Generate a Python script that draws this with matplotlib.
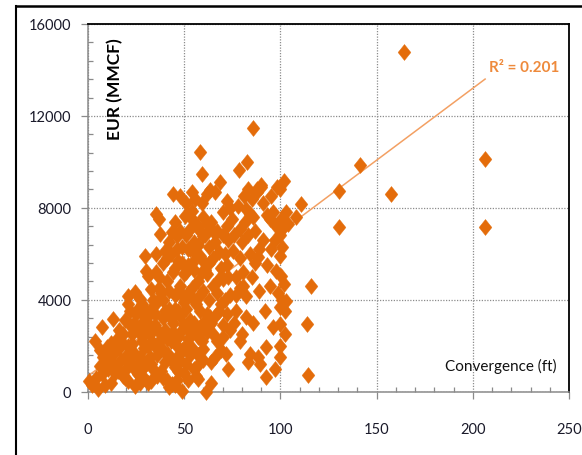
import matplotlib
matplotlib.use("Agg")
import matplotlib.pyplot as plt
import numpy as np
from matplotlib.path import Path
from matplotlib.lines import Line2D
from matplotlib.ticker import MultipleLocator

plt.rcParams['font.family'] = ['Lato', 'DejaVu Sans']

# ---- data ----
convergence_ft = [
    # x 0-15
    0.5, 2, 5, 4, 3.6, 6, 7.1, 7.1, 8, 9.7, 10.5, 10, 12, 13.1, 14, 12, 11, 14, 15, 6, 9, 13,
    # x 15-30
    15.7, 16, 17, 18, 19.2, 20, 20.9, 20.9, 20.9, 21, 22.7, 22, 23, 24.4, 24.4, 24, 25, 26, 26, 27,
    27, 28, 28, 29.6, 29, 29, 30, 18, 22, 25, 27, 16, 19,
    17, 19, 21, 23, 24, 26, 26, 28, 28, 30, 30,
    # x 30-45
    29.6, 30.4, 31.3, 33, 33, 32, 32, 33, 34, 34, 35, 35.6, 35.6, 35.6, 36, 36, 37.3, 37, 38, 38.2,
    38, 39, 39, 40, 40, 40, 41, 41.6, 42, 42, 43.4, 43.4, 43, 44, 44, 45.1, 45, 45, 31, 34, 37, 42,
    44, 39,
    31, 31, 33, 33, 35, 35, 36, 37, 37, 39, 39, 40, 41, 41, 42, 43, 43, 44, 45, 45,
    41, 43, 45,
    # x 45-60
    46, 46, 47, 47, 47.7, 48.6, 48, 48, 49, 49, 50.3, 50, 50, 51, 51, 52, 52, 52, 53, 53, 53.8, 54,
    54, 55, 55, 55, 55.5, 56, 56.4, 57, 57, 57.2, 58, 58, 58, 59, 59, 59.2, 59.8, 59.8, 60, 60, 60,
    46, 50, 53, 56,
    46, 46, 47, 47, 48, 49, 49, 50, 50, 51, 51, 52, 52, 53, 54, 54, 55, 56, 56, 57, 57, 58, 58, 59,
    60, 60,
    46, 48, 49, 51, 53, 54, 55, 57, 58,
    # x 60-75
    61.5, 61, 62, 62, 63, 63.3, 63.3, 63, 64, 64, 65, 65, 65.9, 66, 66, 67, 67, 68, 68.5, 68, 69, 70,
    70.2, 70.2, 70, 71.9, 72, 72, 72, 73, 74, 74, 75, 75.4, 62, 64, 66, 69, 71, 73,
    61, 62, 63, 65, 62, 64, 65, 67, 68, 69, 70, 71, 72, 73, 74,
    # x 75-90
    76, 77.1, 77, 78, 78.4, 78.8, 78.8, 79, 80, 80.6, 80.6, 81.4, 82.3, 82.3, 82.5, 83, 84, 84, 84,
    85, 86, 86, 87, 87, 88, 88.3, 88.3, 89.2, 89, 90, 80, 83, 82, 88, 90,
    76, 77, 79, 81, 83, 85, 86, 89,
    # x 90-110
    91, 92, 92.7, 92.7, 93, 94.4, 94.4, 95, 95.3, 96, 97, 97.9, 97.9, 98, 99, 99.6, 99.6, 99.6, 100,
    100.5, 100, 100, 100, 101, 101, 102.2, 102.2, 103, 102, 103, 101, 102, 104, 100.5,
    91, 93, 96, 97,
    # outliers
    108.3, 110.5, 114, 114.5, 115.7, 130.2, 130.7, 141.6, 157.7, 164.4, 206.4, 206.4,
]
eur_mmcf = [
    # x 0-15
    470, 300, 100, 600, 2220, 1100, 2800, 770, 1500, 1930, 990, 1550, 2100, 3160, 1710, 400, 1300,
    800, 2300, 1800, 300, 1200,
    # x 15-30
    910, 1900, 1400, 2500, 1500, 1000, 480, 3810, 4180, 2000, 2080, 2900, 1200, 260, 4320, 1700,
    3400, 770, 2650, 4030, 1500, 2200, 3000, 3240, 600, 1900, 2600, 700, 3500, 900, 400, 2700, 3100,
    2200, 600, 1400, 2500, 3000, 1200, 3600, 1000, 3800, 1200, 3500,
    # x 30-45
    5920, 5270, 5050, 4470, 480, 1500, 2500, 3600, 1000, 2100, 2900, 5990, 5190, 7730, 3900, 1600,
    6860, 7500, 2300, 910, 4300, 3200, 5600, 6130, 1300, 2700, 4800, 1640, 3600, 200, 6930, 330,
    2200, 5200, 3000, 1060, 4200, 7400, 3300, 4000, 5000, 6500, 8600, 600,
    400, 2000, 2800, 1200, 2000, 3400, 700, 2600, 4500, 1800, 4000, 3500, 500, 2300, 4400, 1400,
    3200, 2600, 300, 3600,
    5800, 6000, 5400,
    # x 45-60
    6790, 2000, 3500, 5700, 8500, 20, 1400, 4600, 2700, 6300, 7660, 3900, 800, 5200, 8200, 6210,
    2300, 4300, 1600, 3100, 7870, 5600, 8700, 4000, 6500, 1000, 8400, 2800, 1130, 4800, 7200, 550,
    10420, 3500, 5900, 2200, 8200, 9465, 1860, 6790, 4400, 7600, 3000, 500, 1900, 7100, 6000,
    1500, 4300, 2400, 900, 3300, 1800, 4200, 2900, 5100, 1200, 3600, 500, 5500, 2600, 1900, 4500,
    3000, 700, 3800, 2400, 1600, 4200, 2800, 5200, 1400, 5700,
    6200, 7000, 5600, 6800, 6200, 7500, 5300, 6400, 7000,
    # x 60-75
    0, 5300, 2600, 8600, 4000, 3240, 8775, 6300, 1300, 7400, 4600, 5800, 1500, 3300, 8700, 2200,
    7000, 4900, 9130, 6100, 3800, 2900, 2370, 4900, 7800, 1640, 3380, 5500, 8300, 6600, 4200, 2700,
    7500, 6130, 5100, 400, 6500, 1800, 6000, 1000,
    6800, 7300, 5600, 7000, 3400, 3000, 2500, 4300, 3500, 5400, 6800, 4000, 7200, 5000, 8000,
    # x 75-90
    3000, 3520, 5000, 8100, 9640, 7080, 2220, 4500, 6500, 5190, 4610, 7370, 4180, 3240, 9985, 8800,
    7730, 1640, 6000, 8400, 11470, 3000, 5600, 7000, 8700, 5850, 1500, 1200, 4400, 8900, 2500, 1300,
    7950, 8800, 8990,
    6800, 4200, 5800, 8500, 6800, 5000, 7600, 6200,
    # x 90-110
    6600, 3500, 1930, 630, 7700, 7510, 4610, 8500, 6210, 2800, 990, 7220, 5260, 8900, 4300, 5920,
    2000, 8800, 2940, 5050, 3700, 1500, 6800, 4000, 7100, 2510, 3520, 3960, 9160, 7800, 6300, 4700,
    7300, 7510,
    8200, 5500, 7800, 6600,
    # outliers
    7590, 8160, 2940, 720, 4590, 8721, 7155, 9853, 8591, 14780, 10114, 7155,
]
trend_slope = 62.6
trend_intercept = 683
r2_label = "R² = 0.201"
x_ticks = [0, 50, 100, 150, 200, 250]
y_ticks = [0, 4000, 8000, 12000, 16000]
x_label = "Convergence (ft)"
y_label = "EUR (MMCF)"

# ---- figure ----
W, H = 582, 456
fig = plt.figure(figsize=(W / 100, H / 100), dpi=100)
ax = fig.add_axes([88 / W, (H - 392.7) / H, (569 - 88) / W, (392.7 - 25) / H])

diamond = Path([(0, 1), (0.8, 0), (0, -1), (-0.8, 0), (0, 1)],
               [Path.MOVETO, Path.LINETO, Path.LINETO, Path.LINETO, Path.CLOSEPOLY])
orange = '#E46C0A'
ax.plot(convergence_ft, eur_mmcf, linestyle='none', marker=diamond, markersize=11.5,
        markerfacecolor=orange, markeredgecolor=orange, markeredgewidth=0.3,
        clip_on=False, zorder=3)

xs = np.array([min(convergence_ft), max(convergence_ft)])
ax.plot(xs, trend_intercept + trend_slope * xs, color='#F3A063', linewidth=1.1, zorder=2.5)
ax.text(208.5, 14150, r2_label, color='#EE8A3C', fontsize=11, fontweight='bold',
        ha='left', va='center')

ax.set_xlim(0, 250)
ax.set_ylim(0, 16000)
ax.set_xticks(x_ticks)
ax.set_yticks(y_ticks)
ax.xaxis.set_minor_locator(MultipleLocator(10))
ax.yaxis.set_minor_locator(MultipleLocator(800))

tick_gray = '#8a8a8a'
ax.tick_params(which='major', direction='out', length=5, width=0.9, color=tick_gray,
               labelsize=10.5, labelcolor='#1a1a2a')
ax.tick_params(axis='x', which='major', pad=17)
ax.tick_params(axis='y', which='major', pad=7)
ax.tick_params(which='minor', direction='in', length=3.5, width=0.9, color=tick_gray)

ax.grid(which='major', linestyle=(0, (1, 1.2)), color='#8c8c8c', linewidth=0.9)
ax.set_axisbelow(True)

for s in ('left', 'bottom'):
    ax.spines[s].set_color(tick_gray)
    ax.spines[s].set_linewidth(1.1)
for s in ('top', 'right'):
    ax.spines[s].set_color('black')
    ax.spines[s].set_linewidth(1.3)

ax.text(0.056, 0.965, y_label, transform=ax.transAxes, rotation=90, fontsize=12.5,
        fontweight='bold', ha='center', va='top', color='black')
ax.text(0.975, 0.07, x_label, transform=ax.transAxes, fontsize=11,
        ha='right', va='center', color='#111111')

# outer chart-area frame
fig.add_artist(Line2D([16 / W, 16 / W], [0, 1 - 7 / H], transform=fig.transFigure,
                      color='black', linewidth=1.5))
fig.add_artist(Line2D([16 / W, 1], [1 - 7 / H, 1 - 7 / H], transform=fig.transFigure,
                      color='black', linewidth=1.8))

fig.savefig('out.png', dpi=100)
